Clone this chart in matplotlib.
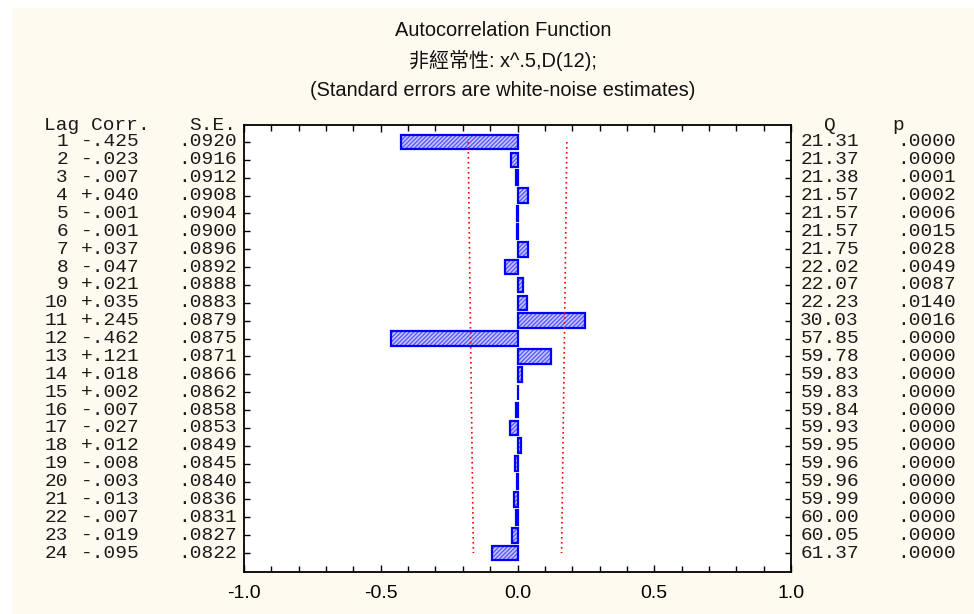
import matplotlib
matplotlib.use('Agg')
import matplotlib.pyplot as plt
from matplotlib.transforms import blended_transform_factory
from matplotlib.patches import Rectangle

# ---------------- data ----------------
lags = list(range(1, 25))
corr = [-0.425, -0.023, -0.007, 0.040, -0.001, -0.001, 0.037, -0.047, 0.021, 0.035,
        0.245, -0.462, 0.121, 0.018, 0.002, -0.007, -0.027, 0.012, -0.008, -0.003,
        -0.013, -0.007, -0.019, -0.095]
se = [0.0920, 0.0916, 0.0912, 0.0908, 0.0904, 0.0900, 0.0896, 0.0892, 0.0888, 0.0883,
      0.0879, 0.0875, 0.0871, 0.0866, 0.0862, 0.0858, 0.0853, 0.0849, 0.0845, 0.0840,
      0.0836, 0.0831, 0.0827, 0.0822]
q_stat = [21.31, 21.37, 21.38, 21.57, 21.57, 21.57, 21.75, 22.02, 22.07, 22.23,
          30.03, 57.85, 59.78, 59.83, 59.83, 59.84, 59.93, 59.95, 59.96, 59.96,
          59.99, 60.00, 60.05, 61.37]
p_val = [0.0000, 0.0000, 0.0001, 0.0002, 0.0006, 0.0015, 0.0028, 0.0049, 0.0087, 0.0140,
         0.0016, 0.0000, 0.0000, 0.0000, 0.0000, 0.0000, 0.0000, 0.0000, 0.0000, 0.0000,
         0.0000, 0.0000, 0.0000, 0.0000]
xticks = [-1.0, -0.5, 0.0, 0.5, 1.0]
xtick_labels = ['-1.0', '-0.5', '0.0', '0.5', '1.0']
title_lines = ['Autocorrelation Function',
               '非經常性: x^.5,D(12);',
               '(Standard errors are white-noise estimates)']
z_conf = 1.96

# ---------------- figure ----------------
W, H = 974, 614
BG = '#fffaf0'
fig = plt.figure(figsize=(W / 100, H / 100), dpi=100, facecolor='white')
fig.patches.append(Rectangle((12 / W, 0), 1 - 12 / W, 1 - 8 / H,
                             transform=fig.transFigure, facecolor=BG,
                             edgecolor='none', zorder=-10))

ax_l, ax_r, ax_t, ax_b = 244, 791, 125, 572
ax = fig.add_axes([ax_l / W, 1 - ax_b / H, (ax_r - ax_l) / W, (ax_b - ax_t) / H])
ax.set_facecolor('white')

plt.rcParams['hatch.linewidth'] = 1.0
ax.barh(lags, corr, height=0.82, facecolor='#c8c8ff', edgecolor='#5a5aff',
        hatch='////////', linewidth=0, zorder=2)
ax.barh(lags, corr, height=0.82, facecolor='none', edgecolor='#0000ff',
        linewidth=1.6, zorder=3)

upper = [z_conf * s for s in se]
lower = [-z_conf * s for s in se]
ax.plot(upper, lags, color='red', linestyle=(0, (1, 2)), linewidth=1.2, zorder=4)
ax.plot(lower, lags, color='red', linestyle=(0, (1, 2)), linewidth=1.2, zorder=4)

ax.set_xlim(-1.0, 1.0)
ax.set_ylim(25.06, 0.05)
ax.set_xticks(xticks)
ax.set_xticklabels(xtick_labels, fontfamily='Liberation Sans', fontsize=14)
ax.set_xticks([x / 10 for x in range(-10, 11)], minor=True)
ax.set_yticks(lags)
ax.set_yticklabels([])
ax.tick_params(axis='x', which='both', direction='in', top=True, bottom=True,
               length=4, width=1, pad=9)
ax.tick_params(axis='x', which='major', length=5)
ax.tick_params(axis='y', which='both', direction='in', left=True, right=True,
               length=4, width=1)
for sp in ax.spines.values():
    sp.set_linewidth(1.3)
    sp.set_color('black')

# ---------------- titles ----------------
title_y = [31, 60, 91]
for txt, yy in zip(title_lines, title_y):
    fig.text(503 / W, 1 - yy / H, txt, ha='center', va='center', fontsize=14.4,
             family=['Liberation Sans', 'Noto Sans CJK TC'], color='#111111')

# ---------------- side tables ----------------
tr = blended_transform_factory(fig.transFigure, ax.transData)
mono = dict(family='Liberation Mono', fontsize=14, color='#1a1a1a', va='center',
            transform=tr)


def fmt_corr(c):
    return f"{c:+.3f}".replace('0.', '.', 1)


hdr_y = 0.05
ax.text(44 / W, hdr_y, 'Lag Corr.', ha='left', **mono)
ax.text(236 / W, hdr_y, 'S.E.', ha='right', **mono)
ax.text(830 / W, hdr_y, 'Q', ha='center', **mono)
ax.text(898 / W, hdr_y, 'p', ha='center', **mono)

for lag, c, s, qv, pv in zip(lags, corr, se, q_stat, p_val):
    ax.text(68 / W, lag, str(lag), ha='right', **mono)
    ax.text(140 / W, lag, fmt_corr(c), ha='right', **mono)
    ax.text(237 / W, lag, f"{s:.4f}"[1:], ha='right', **mono)
    ax.text(859 / W, lag, f"{qv:.2f}", ha='right', **mono)
    ax.text(956 / W, lag, f"{pv:.4f}"[1:], ha='right', **mono)

fig.savefig('out.png', dpi=100, facecolor=fig.get_facecolor())
